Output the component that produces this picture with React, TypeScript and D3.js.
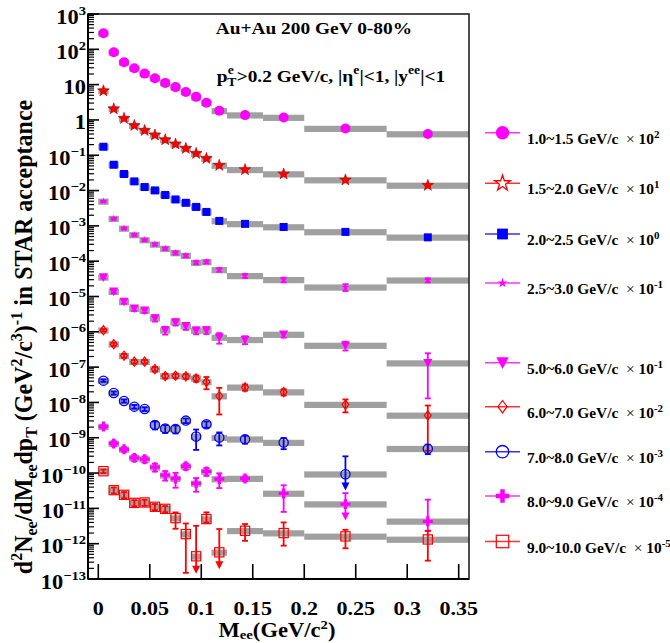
import React from 'react';
import * as d3 from 'd3';

const W = 670;
const H = 643;
const FRAME = { left: 88, right: 469, top: 14, bottom: 579 };
const FONT = '"Liberation Serif", "Times New Roman", serif';

// ---- bins (GeV/c^2) ----
const massLo = [0, 0.01, 0.02, 0.03, 0.04, 0.05, 0.06, 0.07, 0.08, 0.09, 0.1, 0.11, 0.125, 0.16, 0.2, 0.28];
const massHi = [0.01, 0.02, 0.03, 0.04, 0.05, 0.06, 0.07, 0.08, 0.09, 0.1, 0.11, 0.125, 0.16, 0.2, 0.28, 0.36];
const massCenter = [0.005, 0.015, 0.025, 0.035, 0.045, 0.055, 0.065, 0.075, 0.085, 0.095, 0.105, 0.1175, 0.1425, 0.18, 0.24, 0.32];

// ---- yields (already scaled) ----
const pt10_15 = [284, 82.6, 43, 29, 20.5, 15.2, 11.2, 8.5, 6.2, 4.5, 3.05, 1.81, 1.37, 1.17, 0.57, 0.4];
const pt15_20 = [6.66, 2.06, 1.1, 0.695, 0.502, 0.372, 0.274, 0.207, 0.156, 0.112, 0.081, 0.0515, 0.0389, 0.0294, 0.0199, 0.014];
const pt20_25 = [0.174, 0.0538, 0.0294, 0.0182, 0.0126, 0.0101, 0.0075, 0.0056, 0.0045, 0.00344, 0.00248, 0.00138, 0.00114, 0.00093, 0.000675, 0.000474];
const pt25_30 = [0.00494, 0.0016, 0.00085, 0.000555, 0.0004, 0.0003, 0.000228, 0.000172, 0.000144, 0.0000914, 0.0000957, 0.0000569, 0.0000385, 0.0000297, 0.0000183, 0.0000289];
const pt50_60 = [3.5e-5, 1.38e-5, 7.1e-6, 4.58e-6, 4.02e-6, 2.44e-6, 1.11e-6, 1.88e-6, 1.45e-6, 1.09e-6, 1.11e-6, 6.9e-7, 5.97e-7, 8.4e-7, 4.1e-7, 1.3e-7];
const pt60_70 = [1.11e-6, 4.48e-7, 2.1e-7, 1.43e-7, 1.43e-7, 8.8e-8, 5.6e-8, 5.7e-8, 5.5e-8, 4.8e-8, 3.8e-8, 1.52e-8, 2.68e-8, 1.97e-8, 8.7e-9, 4.3e-9];
const pt70_80 = [4.14e-8, 1.85e-8, 1.1e-8, 7.6e-9, 6.5e-9, 2.3e-9, 1.82e-9, 1.77e-9, 3.06e-9, 1.08e-9, 2.41e-9, 1.01e-9, 9.1e-10, 7.3e-10, 9.3e-11, 4.9e-10];
const pt80_90 = [2.07e-9, 6.9e-10, 4.7e-10, 2.69e-10, 2.47e-10, 1.47e-10, 8.7e-11, 7.0e-11, 1.56e-10, 5.1e-11, 1.11e-10, 6.8e-11, 7.0e-11, 2.65e-11, 1.32e-11, 4.3e-12];
const pt90_100 = [1.13e-10, 3.28e-11, 2.42e-11, 1.43e-11, 1.47e-11, 1.11e-11, 9.7e-12, 5.3e-12, 1.87e-12, 4.4e-13, 4.97e-12, 5.7e-13, 2.32e-12, 2.0e-12, 1.61e-12, 1.32e-12];

// ---- statistical errors (relative, up / down) ----
const errSmall = [0.03, 0.03, 0.03, 0.03, 0.03, 0.03, 0.03, 0.03, 0.03, 0.03, 0.03, 0.03, 0.03, 0.03, 0.03, 0.03];
const err25_30 = [0.05, 0.06, 0.06, 0.07, 0.07, 0.08, 0.08, 0.1, 0.1, 0.1, 0.1, 0.12, 0.13, 0.15, 0.22, 0.13];
const err50_60 = [0.08, 0.1, 0.12, 0.15, 0.15, 0.2, 0.25, 0.2, 0.22, 0.22, 0.22, 0.33, 0.25, 0.18, 0.28, 0.9];
const err60_70 = [0.08, 0.1, 0.12, 0.12, 0.12, 0.15, 0.15, 0.15, 0.15, 0.2, 0.38, 0.7, 0.2, 0.2, 0.4, 0.9];
const errUp70_80 = [0.08, 0.1, 0.1, 0.12, 0.12, 0.25, 0.25, 0.25, 0.15, 0.58, 0.2, 0.4, 0.25, 0.35, 2.2, 0.3];
const errDn70_80 = [0.08, 0.1, 0.1, 0.12, 0.12, 0.25, 0.25, 0.25, 0.15, 0.58, 0.2, 0.4, 0.25, 0.35, null, 0.3];
const errUp80_90 = [0.1, 0.15, 0.15, 0.2, 0.2, 0.25, 0.3, 0.45, 0.2, 0.42, 0.25, 0.45, 0.15, 0.7, 1.05, 3.1];
const errDn80_90 = [0.1, 0.15, 0.15, 0.2, 0.2, 0.25, 0.3, 0.45, 0.2, 0.42, 0.25, 0.45, 0.15, 0.7, null, 0.46];
const errUp90_100 = [0.12, 0.2, 0.2, 0.2, 0.2, 0.2, 0.2, 0.45, 1.0, 6.3, 0.55, 3.56, 0.55, 1.0, 0.54, 0.75];
const errDn90_100 = [0.12, 0.2, 0.2, 0.2, 0.2, 0.2, 0.2, 0.5, 0.92, null, 0.2, null, 0.48, 0.56, 0.54, 0.75];

// ---- upper-limit arrows: tip value (null = none) ----
const noArrows = [null, null, null, null, null, null, null, null, null, null, null, null, null, null, null, null];
const arrows70_80 = [null, null, null, null, null, null, null, null, null, null, null, null, null, null, 3.2e-11, null];
const arrows80_90 = [null, null, null, null, null, null, null, null, null, null, null, null, null, null, 4.5e-12, null];
const arrows90_100 = [null, null, null, null, null, null, null, null, null, 1.4e-13, null, 1.9e-13, null, null, null, null];

const sysRel = 0.2;

const seriesLabels = ['1.0~1.5 GeV/c', '1.5~2.0 GeV/c', '2.0~2.5 GeV/c', '2.5~3.0 GeV/c', '5.0~6.0 GeV/c', '6.0~7.0 GeV/c', '7.0~8.0 GeV/c', '8.0~9.0 GeV/c', '9.0~10.0 GeV/c'];
const scaleExps = ['2', '1', '0', '-1', '-1', '-2', '-3', '-4', '-5'];
const seriesColors = ['#ff00ff', '#ff0000', '#0000ff', '#ff00ff', '#ff00ff', '#ff0000', '#0000ff', '#ff00ff', '#ff0000'];
const seriesMarkers = ['circle', 'star', 'square', 'smallstar', 'tridown', 'diamond', 'opencircle', 'cross', 'opensquare'];
const legendMarkers = ['circle', 'openstar', 'square', 'smallstar', 'tridown', 'diamond', 'opencircle', 'cross', 'opensquare'];

const series = [
  { values: pt10_15, up: errSmall, dn: errSmall, arrows: noArrows },
  { values: pt15_20, up: errSmall, dn: errSmall, arrows: noArrows },
  { values: pt20_25, up: errSmall, dn: errSmall, arrows: noArrows },
  { values: pt25_30, up: err25_30, dn: err25_30, arrows: noArrows },
  { values: pt50_60, up: err50_60, dn: err50_60, arrows: noArrows },
  { values: pt60_70, up: err60_70, dn: err60_70, arrows: noArrows },
  { values: pt70_80, up: errUp70_80, dn: errDn70_80, arrows: arrows70_80 },
  { values: pt80_90, up: errUp80_90, dn: errDn80_90, arrows: arrows80_90 },
  { values: pt90_100, up: errUp90_100, dn: errDn90_100, arrows: arrows90_100 },
].map((s, i) => ({ ...s, label: seriesLabels[i], exp: scaleExps[i], color: seriesColors[i], marker: seriesMarkers[i], legendMarker: legendMarkers[i] }));

const xTicks = [0, 0.05, 0.1, 0.15, 0.2, 0.25, 0.3, 0.35];
const xTickLabels = ['0', '0.05', '0.1', '0.15', '0.2', '0.25', '0.3', '0.35'];
const yDecades = [-13, -12, -11, -10, -9, -8, -7, -6, -5, -4, -3, -2, -1, 0, 1, 2, 3];

// layout for legend
const legendY = [132.7, 183.3, 234, 283, 362.7, 406.7, 451.7, 496, 541.5];

const x = d3.scaleLinear().domain([-0.01, 0.36]).range([FRAME.left, FRAME.right]);
const y = d3.scaleLog().domain([1e-13, 1e3]).range([FRAME.bottom, FRAME.top]);

function Marker({ type, cx, cy, color, s = 1 }: any) {
  const t = `translate(${cx},${cy})`;
  switch (type) {
    case 'circle':
      return <circle cx={cx} cy={cy} r={5 * s} fill={color} />;
    case 'star':
      return <path transform={t} d={d3.symbol(d3.symbolStar, 42 * s * s)() as string} fill={color} stroke="#b00000" strokeWidth={0.6} />;
    case 'openstar':
      return <path transform={t} d={d3.symbol(d3.symbolStar, 42 * s * s)() as string} fill="white" stroke={color} strokeWidth={1.3} />;
    case 'square':
      return <rect x={cx - 4 * s} y={cy - 4 * s} width={8 * s} height={8 * s} fill={color} />;
    case 'smallstar':
      return <path transform={t} d={d3.symbol(d3.symbolStar, 17 * s * s)() as string} fill={color} />;
    case 'tridown':
      return <path transform={t} d={`M${-4.6 * s},${-4 * s}L${4.6 * s},${-4 * s}L0,${4.6 * s}Z`} fill={color} />;
    case 'diamond':
      return <path transform={t} d={`M0,${-4.6 * s}L${3.4 * s},0L0,${4.6 * s}L${-3.4 * s},0Z`} fill="none" stroke={color} strokeWidth={1.2} />;
    case 'opencircle':
      return <circle cx={cx} cy={cy} r={4.6 * s} fill="none" stroke={color} strokeWidth={1.3} />;
    case 'cross':
      return <path transform={t} d={d3.symbol(d3.symbolCross, 55 * s * s)() as string} fill={color} />;
    case 'opensquare':
      return <rect x={cx - 4.6 * s} y={cy - 4.6 * s} width={9.2 * s} height={9.2 * s} fill="none" stroke={color} strokeWidth={1.2} />;
    default:
      return null;
  }
}

function SText({ x: tx, y: ty, sx = 1.12, size, anchor = 'start', children, weight = 'bold' }: any) {
  return (
    <g transform={`translate(${tx},${ty}) scale(${sx},1)`}>
      <text x={0} y={0} fontFamily={FONT} fontWeight={weight} fontSize={size} textAnchor={anchor} fill="black">
        {children}
      </text>
    </g>
  );
}

export default function App() {
  const bands: any[] = [];
  const bars: any[] = [];
  const marks: any[] = [];
  series.forEach((s, si) => {
    s.values.forEach((v: number, i: number) => {
      const cx = x(massCenter[i]);
      const cy = y(v);
      bands.push(
        <rect key={`b${si}-${i}`} x={x(massLo[i])} y={y(v * (1 + sysRel))} width={x(massHi[i]) - x(massLo[i])} height={y(v * (1 - sysRel)) - y(v * (1 + sysRel))} fill="#a0a0a0" />
      );
      const up = s.up[i];
      const dn = s.dn[i];
      const arrowTo = s.arrows[i];
      const yTop = y(v * (1 + up));
      let yBot: number;
      let capBot = true;
      if (arrowTo != null) {
        yBot = y(arrowTo);
        capBot = false;
      } else if (dn >= 1 || v * (1 - dn) < 1e-13) {
        yBot = FRAME.bottom;
        capBot = false;
      } else {
        yBot = y(v * (1 - dn));
      }
      const c = s.color;
      bars.push(
        <g key={`e${si}-${i}`} stroke={c} strokeWidth={1.8}>
          <line x1={cx} x2={cx} y1={yTop} y2={arrowTo != null ? yBot - 6 : yBot} />
          <line x1={cx - 3} x2={cx + 3} y1={yTop} y2={yTop} />
          {capBot && <line x1={cx - 3} x2={cx + 3} y1={yBot} y2={yBot} />}
          {arrowTo != null && <path d={`M${cx - 4},${yBot - 8}L${cx + 4},${yBot - 8}L${cx},${yBot}Z`} fill={c} stroke="none" />}
        </g>
      );
      marks.push(<Marker key={`m${si}-${i}`} type={s.marker} cx={cx} cy={cy} color={c} />);
    });
  });

  const yMinor: number[] = [];
  yDecades.slice(0, -1).forEach((k) => {
    [2, 3, 4, 5, 6, 7, 8, 9].forEach((m) => yMinor.push(m * Math.pow(10, k)));
  });

  return (
    <svg width={W} height={H} style={{ position: 'absolute', left: 0, top: 0, background: 'white' }}>
      <rect x={0} y={0} width={W} height={H} fill="white" />
      <g>{bands}</g>
      <g>{bars}</g>
      <g>{marks}</g>

      {/* frame */}
      <rect x={FRAME.left} y={FRAME.top} width={FRAME.right - FRAME.left} height={FRAME.bottom - FRAME.top} fill="none" stroke="#222" strokeWidth={1.6} />
      <line x1={FRAME.left} x2={FRAME.left} y1={FRAME.top} y2={FRAME.bottom} stroke="black" strokeWidth={2} />
      <line x1={FRAME.left} x2={FRAME.right} y1={FRAME.bottom} y2={FRAME.bottom} stroke="black" strokeWidth={2} />

      {/* y ticks */}
      {yDecades.map((k) => (
        <line key={`yt${k}`} x1={FRAME.left} x2={FRAME.left + 11} y1={y(Math.pow(10, k))} y2={y(Math.pow(10, k))} stroke="black" strokeWidth={1.6} />
      ))}
      {yMinor.map((v, i) => (
        <line key={`ym${i}`} x1={FRAME.left} x2={FRAME.left + 6} y1={y(v)} y2={y(v)} stroke="black" strokeWidth={1.2} />
      ))}
      {yDecades.map((k) => (
        <SText key={`yl${k}`} x={86} y={y(Math.pow(10, k)) + 9.5} size={20} anchor="end">
          {k === 0 ? '1' : '10'}
          {k !== 0 && k !== 1 && (
            <tspan fontSize={13} dy={-9}>
              {k < 0 ? `\u2212${-k}` : `${k}`}
            </tspan>
          )}
        </SText>
      ))}

      {/* x ticks */}
      {xTicks.map((t, i) => (
        <g key={`xt${i}`}>
          <line x1={x(t)} x2={x(t)} y1={FRAME.bottom} y2={FRAME.bottom - 15} stroke="black" strokeWidth={1.6} />
          <SText x={x(t)} y={615} size={19} anchor="middle" sx={1.16}>
            {xTickLabels[i]}
          </SText>
        </g>
      ))}

      {/* axis titles */}
      <SText x={277} y={637} size={20} anchor="middle" sx={1.13}>
        M<tspan fontSize={13} dy={2}>ee</tspan>
        <tspan dy={-2}>(GeV/c</tspan>
        <tspan fontSize={13} dy={-8}>2</tspan>
        <tspan dy={8}>)</tspan>
      </SText>
      <g transform={`translate(32,337) scale(1.05,1) rotate(-90)`}>
        <text x={0} y={0} fontFamily={FONT} fontWeight="bold" fontSize={24} textAnchor="middle">
          d<tspan fontSize={16} dy={-10}>2</tspan>
          <tspan dy={10}>N</tspan>
          <tspan fontSize={16} dy={5}>ee</tspan>
          <tspan dy={-5}>/dM</tspan>
          <tspan fontSize={16} dy={5}>ee</tspan>
          <tspan dy={-5}>dp</tspan>
          <tspan fontSize={16} dy={5}>T</tspan>
          <tspan dy={-5}> (GeV</tspan>
          <tspan fontSize={16} dy={-10}>2</tspan>
          <tspan dy={10}>/c</tspan>
          <tspan fontSize={16} dy={-10}>3</tspan>
          <tspan dy={10}>)</tspan>
          <tspan fontSize={16} dy={-10}>-1</tspan>
          <tspan dy={10}> in STAR acceptance</tspan>
        </text>
      </g>

      {/* annotations */}
      <SText x={215.7} y={34} size={17} sx={1.14}>
        Au+Au 200 GeV 0-80%
      </SText>
      <g transform={`translate(216.7,81.5) scale(1.14,1)`} fontFamily={FONT} fontWeight="bold">
        <text x={0} y={0} fontSize={17}>p</text>
        <text x={9.6} y={-8} fontSize={12}>e</text>
        <text x={9.3} y={4} fontSize={12}>T</text>
        <text x={17.5} y={0} fontSize={17}>
          {'>0.2 GeV/c, |\u03b7'}
          <tspan fontSize={12} dy={-8}>e</tspan>
          <tspan dy={8}>{'|<1, |y'}</tspan>
          <tspan fontSize={12} dy={-8}>ee</tspan>
          <tspan dy={8}>{'|<1'}</tspan>
        </text>
      </g>

      {/* legend */}
      {series.map((s, i) => (
        <g key={`lg${i}`}>
          <line x1={485} x2={520} y1={legendY[i]} y2={legendY[i]} stroke={s.color} strokeWidth={1.5} opacity={0.8} />
          <Marker type={s.legendMarker} cx={502.5} cy={legendY[i]} color={s.color} s={1.35} />
          <SText x={527} y={legendY[i] + 11} size={14} sx={1.1}>
            {s.label}
            <tspan fontWeight="normal">{'\u00a0\u00a0\u00d7 '}</tspan>
            <tspan>10</tspan>
            <tspan fontSize={10} dy={-6}>{s.exp}</tspan>
          </SText>
        </g>
      ))}
    </svg>
  );
}
